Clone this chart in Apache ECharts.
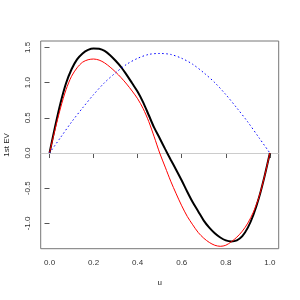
<!DOCTYPE html>
<html><head><meta charset="utf-8">
<script src="https://cdn.jsdelivr.net/npm/echarts@6/dist/echarts.min.js"></script>
<style>html,body{margin:0;padding:0;background:#fff}#c{width:300px;height:300px}</style>
</head><body><div id="c"></div>
<script>
var uGrid = [0,0.025,0.05,0.075,0.1,0.125,0.15,0.175,0.2,0.225,0.25,0.275,0.3,0.325,0.35,0.375,0.4,0.425,0.45,0.475,0.5,0.525,0.55,0.575,0.6,0.625,0.65,0.675,0.7,0.725,0.75,0.775,0.8,0.825,0.85,0.875,0.9,0.925,0.95,0.975,1];
var empiricalEV = [0,0.37,0.71,0.99,1.19,1.33,1.415,1.465,1.485,1.48,1.45,1.39,1.31,1.22,1.11,0.99,0.87,0.72,0.54,0.36,0.21,0.055,-0.095,-0.24,-0.39,-0.55,-0.70,-0.83,-0.96,-1.06,-1.14,-1.20,-1.24,-1.255,-1.24,-1.18,-1.06,-0.88,-0.64,-0.34,0];
var redEV = [0,0.33,0.64,0.90,1.09,1.21,1.29,1.325,1.335,1.32,1.28,1.22,1.15,1.07,0.98,0.88,0.77,0.63,0.45,0.23,0,-0.20,-0.40,-0.58,-0.75,-0.90,-1.02,-1.13,-1.21,-1.27,-1.31,-1.325,-1.31,-1.26,-1.195,-1.11,-0.995,-0.84,-0.63,-0.34,0];
var uBlue = [0,0.05,0.1,0.15,0.2,0.25,0.3,0.35,0.4,0.45,0.5,0.55,0.6,0.65,0.7,0.75,0.8,0.85,0.9,0.95,1];
var blueEV = [0,0.22,0.44,0.64,0.83,1.0,1.14,1.26,1.345,1.40,1.414,1.40,1.345,1.26,1.14,1.0,0.83,0.64,0.44,0.22,0];
var xTicks = [0,0.2,0.4,0.6,0.8,1.0];
var yTicks = [-1.0,-0.5,0,0.5,1.0,1.5];

function pairs(xs, ys){ return xs.map(function(x,i){return [x, ys[i]];}); }
var chart = echarts.init(document.getElementById('c'), null, {renderer:'canvas'});
var font = 'Liberation Sans, Arial, Helvetica, sans-serif';
chart.setOption({
  animation:false,
  grid:{left:40.7, right:21.3, top:41, bottom:51.3, containLabel:false, outerBoundsMode:'none',
    show:true, borderColor:'#777', borderWidth:1, backgroundColor:'transparent'},
  xAxis:{type:'value', min:-0.04, max:1.04,
    name:'u', nameLocation:'middle', nameGap:30, nameTextStyle:{fontFamily:font, fontSize:8, color:'#222'},
    axisLine:{show:false}, splitLine:{show:false},
    axisTick:{show:true, length:5, lineStyle:{color:'#555'}, customValues:xTicks},
    axisLabel:{margin:10, fontFamily:font, fontSize:8, color:'#333', customValues:xTicks,
      formatter:function(v){return v.toFixed(1);}}
  },
  yAxis:{type:'value', min:-1.359, max:1.591,
    name:'1st EV', nameLocation:'middle', nameGap:30, nameRotate:90, nameTextStyle:{fontFamily:font, fontSize:8, color:'#222'},
    axisLine:{show:false}, splitLine:{show:false},
    axisTick:{show:true, length:5, lineStyle:{color:'#555'}, customValues:yTicks},
    axisLabel:{margin:9, rotate:90, fontFamily:font, fontSize:8, color:'#333', customValues:yTicks,
      formatter:function(v){return v.toFixed(1);}}
  },
  series:[
    {type:'line', data:pairs(uGrid, empiricalEV), showSymbol:false, smooth:0.3, lineStyle:{color:'#000', width:2}, z:3,
      markLine:{silent:true, symbol:'none', label:{show:false}, lineStyle:{color:'#cccccc', width:1, type:'solid'}, data:[{yAxis:0}], z:1}},
    {type:'line', data:pairs(uGrid, redEV), showSymbol:false, smooth:0.3, lineStyle:{color:'#ff0000', width:1}, z:4},
    {type:'line', data:pairs(uBlue, blueEV), showSymbol:false, smooth:0.3, lineStyle:{color:'#0000ff', width:1, type:[1.5,2.5]}, z:4}
  ]
});
</script></body></html>
